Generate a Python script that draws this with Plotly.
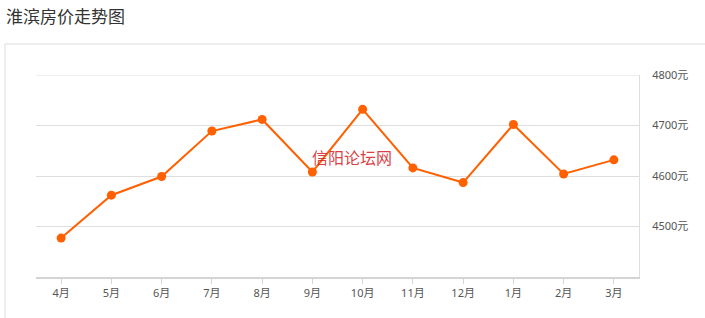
import plotly.graph_objects as go

months = ["4月", "5月", "6月", "7月", "8月", "9月", "10月", "11月", "12月", "1月", "2月", "3月"]
prices = [4477, 4562, 4599, 4689, 4712, 4608, 4732, 4616, 4587, 4702, 4604, 4632]
y_ticks = [4500, 4600, 4700, 4800]
y_tick_labels = [f"{v}元" for v in y_ticks]

W, H = 705, 318
L, R, T, B = 36, 66, 75, 41
pw, ph = W - L - R, H - T - B

def px_x(x):
    return (x - L) / pw

def px_y(y):
    return (H - B - y) / ph

FONT = "Noto Sans CJK SC, Microsoft YaHei, sans-serif"
TICKFONT = "Noto Sans, Noto Sans CJK SC, sans-serif"

fig = go.Figure()
fig.add_trace(go.Scatter(
    x=months, y=prices, mode="lines+markers",
    line=dict(color="#ff6000", width=2),
    marker=dict(color="#ff6000", size=9),
    hoverinfo="x+y",
))

fig.update_layout(
    width=W, height=H,
    margin=dict(l=L, r=R, t=T, b=B, pad=0),
    paper_bgcolor="white", plot_bgcolor="white",
    showlegend=False,
    font=dict(family=TICKFONT, size=11, color="#555"),
    xaxis=dict(
        type="category", range=[-0.5, 11.5], showgrid=False, zeroline=False,
        showline=True, linecolor="#d4d4d4", linewidth=2,
        ticks="outside", ticklen=5, tickcolor="#d4d4d4", tickwidth=1,
        tickfont=dict(size=11, color="#555", family=TICKFONT),
        fixedrange=True,
    ),
    yaxis=dict(
        side="right", range=[4400, 4800], tickvals=y_ticks, ticktext=y_tick_labels,
        showgrid=True, gridcolor="#dedede", gridwidth=1, zeroline=False,
        showline=True, linecolor="#dedede", linewidth=1, mirror=False,
        ticks="", ticklabelstandoff=10,
        tickfont=dict(size=11, color="#555", family=TICKFONT),
        fixedrange=True,
    ),
    shapes=[
        dict(type="rect", xref="paper", yref="paper",
             x0=px_x(5), x1=px_x(712), y0=px_y(330), y1=px_y(44),
             line=dict(color="#dcdcdc", width=1), fillcolor="rgba(0,0,0,0)", layer="below"),
        dict(type="line", xref="paper", yref="y",
             x0=0, x1=1, y0=y_ticks[-1], y1=y_ticks[-1],
             line=dict(color="#dedede", width=1), layer="below"),
    ],
    annotations=[
        dict(text="淮滨房价走势图", xref="paper", yref="paper",
             x=px_x(4), y=px_y(16), xanchor="left", yanchor="middle",
             showarrow=False, font=dict(size=17, color="#333", family=FONT)),
        dict(text="信阳论坛网", xref="paper", yref="paper",
             x=px_x(352), y=px_y(157), xanchor="center", yanchor="middle",
             showarrow=False, font=dict(size=16, color="rgba(214,40,45,0.9)", family=FONT)),
    ],
)

fig.write_html("out.html")
